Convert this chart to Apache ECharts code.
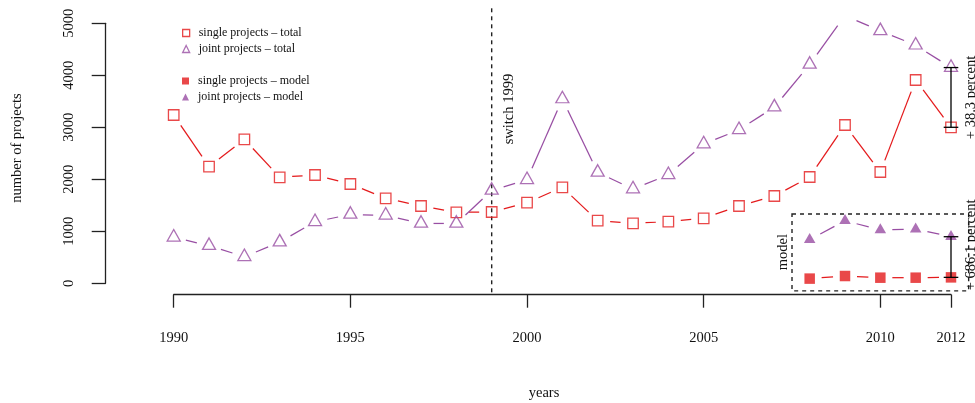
<!DOCTYPE html>
<html>
<head>
<meta charset="utf-8">
<script src="https://cdn.jsdelivr.net/npm/echarts@6/dist/echarts.min.js"></script>
<style>
  html, body { margin: 0; padding: 0; background: #fff; }
  #chart { width: 975px; height: 403px; }
</style>
</head>
<body>
<div id="chart"></div>
<script>
// Yearly project counts
const years = [1990, 1991, 1992, 1993, 1994, 1995, 1996, 1997, 1998, 1999, 2000,
               2001, 2002, 2003, 2004, 2005, 2006, 2007, 2008, 2009, 2010, 2011, 2012];
const singleTotal = [3237, 2243, 2769, 2038, 2083, 1910, 1635, 1487, 1365, 1371, 1550,
                     1846, 1204, 1154, 1185, 1250, 1487, 1679, 2044, 3044, 2140, 3910, 3000];
const jointTotal  = [884, 724, 510, 792, 1183, 1324, 1307, 1151, 1151, 1785, 1991,
                     3544, 2132, 1812, 2087, 2677, 2952, 3388, 4209, 5148, 4854, 4578, 4149];

// Model-based counts for the most recent years
const modelYears  = [2008, 2009, 2010, 2011, 2012];
const singleModel = [90, 140, 108, 108, 114];
const jointModel  = [837, 1204, 1025, 1042, 896];

// Axis ticks
const xTickLabels = [1990, 1995, 2000, 2005, 2010, 2012];
const yTickValues = [0, 1000, 2000, 3000, 4000, 5000];

// Reference year and model window
const switchYear = 1999;
const modelBox = [2007.5, -145, 2012.5, 1333];

const RED = '#E41A1C';
const PURPLE = '#984EA3';
const FONT = '"Liberation Serif", "DejaVu Serif", serif';

const NAMES = {
  st: 'single projects – total',
  jt: 'joint projects – total',
  sm: 'single projects – model',
  jm: 'joint projects – model'
};

function zip(xs, ys) { return xs.map((x, i) => [x, ys[i]]); }
function pairs(xs, ys) {
  const out = [];
  for (let i = 0; i < xs.length - 1; i++) out.push([xs[i], ys[i], xs[i + 1], ys[i + 1]]);
  return out;
}

// Line segments that stop short of each point (R type = "b")
function gappedLine(xs, ys, color, gap) {
  return {
    type: 'custom',
    silent: true,
    dimensions: ['x1', 'y1', 'x2', 'y2'],
    encode: { x: [0, 2], y: [1, 3] },
    data: pairs(xs, ys),
    z: 2,
    renderItem: function (params, api) {
      const a = api.coord([api.value(0), api.value(1)]);
      const b = api.coord([api.value(2), api.value(3)]);
      const dx = b[0] - a[0], dy = b[1] - a[1];
      const d = Math.sqrt(dx * dx + dy * dy);
      if (d <= 2 * gap) return null;
      const ux = dx / d, uy = dy / d;
      return {
        type: 'line',
        shape: { x1: a[0] + ux * gap, y1: a[1] + uy * gap, x2: b[0] - ux * gap, y2: b[1] - uy * gap },
        style: { stroke: color, lineWidth: 1.25 }
      };
    }
  };
}

// Difference bars between single and joint counts in the last year
const lastT = years.length - 1, lastM = modelYears.length - 1;
const diffBars = [
  [years[lastT], singleTotal[lastT], jointTotal[lastT]],
  [modelYears[lastM], singleModel[lastM], jointModel[lastM]]
];
const diffLabels = ['+ 38.3 percent', '+ 686.1 percent'];
const diffLabelY = [(singleTotal[lastT] + jointTotal[lastT]) / 2, 740];

const notes = [
  { text: 'switch 1999', x: 1999.5, y: 3350 },
  { text: 'model', x: 2007.25, y: 600 }
];

const chart = echarts.init(document.getElementById('chart'), null, { renderer: 'canvas' });

const hollow = c => ({ color: 'rgba(0,0,0,0)', borderColor: c, borderWidth: 1.3 });

const legendText = { fontFamily: FONT, fontSize: 12, color: '#111', lineHeight: 14, padding: [0, 0, 0, 4] };

chart.setOption({
  animation: false,
  backgroundColor: '#fff',
  textStyle: { fontFamily: FONT, color: '#000' },
  grid: { left: 173.7, right: 24, top: 23.3, bottom: 119.7, containLabel: false },
  xAxis: {
    type: 'value', min: 1990, max: 2012, interval: 1,
    offset: 11.4,
    splitLine: { show: false },
    axisLine: { show: true, onZero: false, lineStyle: { color: '#222', width: 1.3 } },
    axisTick: { show: true, length: 13, lineStyle: { color: '#222', width: 1.3 }, customValues: xTickLabels },
    axisLabel: { customValues: xTickLabels, margin: 36, fontFamily: FONT, fontSize: 14.5, color: '#111',
                 formatter: v => String(v) }
  },
  yAxis: {
    type: 'value', min: 0, max: 5000, interval: 1000,
    offset: 68,
    splitLine: { show: false },
    axisLine: { show: true, onZero: false, lineStyle: { color: '#222', width: 1.3 } },
    axisTick: { show: true, length: 14, lineStyle: { color: '#222', width: 1.3 }, customValues: yTickValues },
    axisLabel: { customValues: yTickValues, rotate: 90, margin: 29, fontFamily: FONT, fontSize: 14.5, color: '#111',
                 formatter: v => String(v) }
  },
  legend: [
    {
      orient: 'vertical', left: 182, top: 26, padding: 0, itemWidth: 7, itemHeight: 7, itemGap: 2,
      textStyle: legendText, selectedMode: false,
      data: [
        { name: NAMES.st, icon: 'rect', itemStyle: hollow(RED) },
        { name: NAMES.jt, icon: 'triangle', itemStyle: hollow(PURPLE) }
      ]
    },
    {
      orient: 'vertical', left: 182, top: 74, padding: 0, itemWidth: 7, itemHeight: 7, itemGap: 2,
      textStyle: legendText, selectedMode: false,
      data: [
        { name: NAMES.sm, icon: 'rect', itemStyle: { color: RED, borderWidth: 0 } },
        { name: NAMES.jm, icon: 'triangle', itemStyle: { color: PURPLE, borderWidth: 0 } }
      ]
    }
  ],
  graphic: [
    { type: 'text', x: 544, y: 393,
      style: { text: 'years', font: '14.5px ' + FONT, fill: '#111', align: 'center', verticalAlign: 'middle' } },
    { type: 'text', x: 17, y: 148, rotation: Math.PI / 2,
      style: { text: 'number of projects', font: '14.5px ' + FONT, fill: '#111', align: 'center', verticalAlign: 'middle' } }
  ],
  series: [
    // dashed reference line at the switch year
    {
      type: 'custom', silent: true, data: [[switchYear, 0]], z: 1,
      renderItem: function (params, api) {
        const cs = params.coordSys;
        const x = api.coord([api.value(0), 0])[0];
        return {
          type: 'line',
          shape: { x1: x, y1: cs.y - 15, x2: x, y2: cs.y + cs.height + 11.4 },
          style: { stroke: '#222', lineWidth: 1.4, lineDash: [4, 4] }
        };
      }
    },
    // dashed frame around the model values
    {
      type: 'custom', silent: true, data: [modelBox], z: 1,
      dimensions: ['x1', 'y1', 'x2', 'y2'], encode: { x: [0, 2], y: [1, 3] },
      renderItem: function (params, api) {
        const a = api.coord([api.value(0), api.value(3)]);
        const b = api.coord([api.value(2), api.value(1)]);
        return {
          type: 'rect',
          shape: { x: a[0], y: a[1], width: b[0] - a[0], height: b[1] - a[1] },
          style: { fill: 'none', stroke: '#222', lineWidth: 1.4, lineDash: [4, 4] }
        };
      }
    },
    gappedLine(years, singleTotal, RED, 12.5),
    gappedLine(years, jointTotal, PURPLE, 12.5),
    gappedLine(modelYears, singleModel, RED, 12),
    gappedLine(modelYears, jointModel, PURPLE, 12),
    {
      name: NAMES.st, type: 'scatter', data: zip(years, singleTotal), z: 3,
      symbol: 'rect', symbolSize: 10.5, itemStyle: hollow(RED)
    },
    {
      name: NAMES.jt, type: 'scatter', data: zip(years, jointTotal), z: 3,
      symbol: 'triangle', symbolSize: [13, 11.5], symbolOffset: [0, -2], itemStyle: hollow(PURPLE)
    },
    {
      name: NAMES.sm, type: 'scatter', data: zip(modelYears, singleModel), z: 3,
      symbol: 'rect', symbolSize: 10.5, itemStyle: { color: RED }
    },
    {
      name: NAMES.jm, type: 'scatter', data: zip(modelYears, jointModel), z: 3,
      symbol: 'triangle', symbolSize: [11.5, 10], symbolOffset: [0, -1.7], itemStyle: { color: PURPLE }
    },
    // difference bars with caps and percent labels
    {
      type: 'custom', silent: true, data: diffBars, z: 4,
      dimensions: ['x', 'lo', 'hi'], encode: { x: 0, y: [1, 2] },
      renderItem: function (params, api) {
        const lo = api.coord([api.value(0), api.value(1)]);
        const hi = api.coord([api.value(0), api.value(2)]);
        const mid = api.coord([api.value(0), diffLabelY[params.dataIndex]]);
        const w = 7.3;
        const st = { stroke: '#000', lineWidth: 1.3 };
        return {
          type: 'group',
          children: [
            { type: 'line', shape: { x1: lo[0], y1: lo[1], x2: hi[0], y2: hi[1] }, style: st },
            { type: 'line', shape: { x1: lo[0] - w, y1: lo[1], x2: lo[0] + w, y2: lo[1] }, style: st },
            { type: 'line', shape: { x1: hi[0] - w, y1: hi[1], x2: hi[0] + w, y2: hi[1] }, style: st },
            { type: 'text', x: mid[0] + 20, y: mid[1], rotation: Math.PI / 2,
              style: { text: diffLabels[params.dataIndex], font: '14.5px ' + FONT, fill: '#111',
                       align: 'center', verticalAlign: 'middle' } }
          ]
        };
      }
    },
    // rotated text notes
    {
      type: 'custom', silent: true, data: notes.map(n => [n.x, n.y]), z: 4,
      renderItem: function (params, api) {
        const p = api.coord([api.value(0), api.value(1)]);
        return {
          type: 'text', x: p[0], y: p[1], rotation: Math.PI / 2,
          style: { text: notes[params.dataIndex].text, font: '14.5px ' + FONT, fill: '#111',
                   align: 'center', verticalAlign: 'middle' }
        };
      }
    }
  ]
});
</script>
</body>
</html>
